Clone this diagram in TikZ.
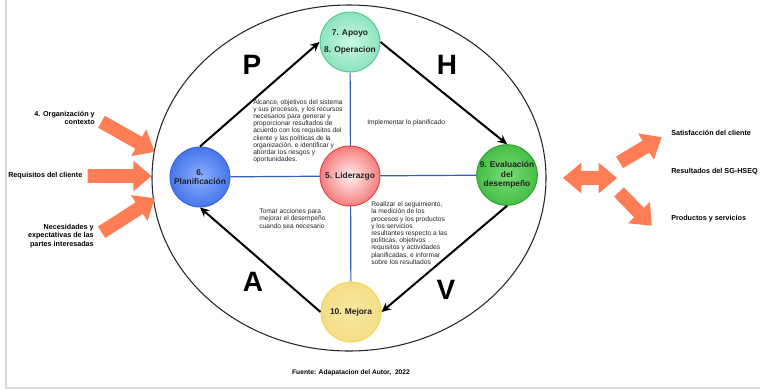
\documentclass[tikz,border=0pt]{standalone}
\usepackage{fontspec}
\setmainfont{Liberation Sans}
\usetikzlibrary{shapes.arrows,arrows.meta,backgrounds}

\definecolor{coralarrow}{RGB}{255,125,85}
\definecolor{axisblue}{RGB}{50,95,190}
\definecolor{textgray}{RGB}{35,35,35}

\tikzset{every picture/.style={line width=0.75pt}}
\tikzset{
  stage/.style={circle, minimum size=45pt, inner sep=0pt, align=center, text=textgray,
    font=\bfseries\fontsize{6.3}{7.2}\selectfont},
  cycle arrow/.style={line width=1.5pt, -{Stealth[length=7pt,width=6.5pt]}},
  axis line/.style={draw=axisblue, line width=0.9pt},
  flow arrow/.style={fill=coralarrow, draw=none, inner xsep=0pt, inner ysep=4.9pt},
  note/.style={anchor=north west, inner sep=0pt, align=left, text=textgray,
    font=\fontsize{5}{5.4}\selectfont},
  sidelabel/.style={inner sep=0pt, font=\bfseries\fontsize{5.4}{6.3}\selectfont},
  phase/.style={inner sep=0pt, font=\bfseries\fontsize{21}{21}\selectfont},
}

\begin{document}
\begin{tikzpicture}[x=0.75pt,y=0.75pt,yscale=-1,xscale=1]
\useasboundingbox (0,0) rectangle (760,390);

% frame
\draw [black!15, line width=1pt] (6,0) -- (6,388) -- (760,388);
% outer ellipse
\draw [black!85, line width=0.8pt] (349,178) ellipse [x radius=197, y radius=173];

% stages
\node [stage, draw={rgb,255:red,90;green,200;blue,150}, inner color={rgb,255:red,200;green,248;blue,225}, outer color={rgb,255:red,140;green,228;blue,188}] (apoyo) at (350,42) {7. Apoyo\\[5.5pt]8. Operacion};
\node [stage, draw={rgb,255:red,225;green,70;blue,70}, inner color={rgb,255:red,255;green,240;blue,240}, outer color={rgb,255:red,245;green,125;blue,125}] (liderazgo) at (350,176) {5. Liderazgo};
\node [stage, draw={rgb,255:red,60;green,100;blue,215}, inner color={rgb,255:red,140;green,175;blue,255}, outer color={rgb,255:red,70;green,118;blue,235}] (planificacion) at (200,177) {6.\\Planificación};
\node [stage, draw={rgb,255:red,50;green,160;blue,50}, inner color={rgb,255:red,120;green,220;blue,120}, outer color={rgb,255:red,70;green,190;blue,70}] (evaluacion) at (507,175) {9. Evaluación\\del\\desempeño};
\node [stage, draw={rgb,255:red,245;green,212;blue,90}, inner color={rgb,255:red,248;green,232;blue,160}, outer color={rgb,255:red,243;green,222;blue,135}] (mejora) at (351,312) {10. Mejora};

% cross behind the centre
\begin{pgfonlayer}{background}
\draw [axis line] (planificacion) -- (evaluacion);
\draw [axis line] (apoyo) -- (mejora);
\end{pgfonlayer}

% PHVA cycle
\draw [cycle arrow] (planificacion.north) -- (apoyo.west);
\draw [cycle arrow] (apoyo.east) -- (evaluacion.north);
\draw [cycle arrow] (evaluacion.south) -- (mejora.east);
\draw [cycle arrow] (mejora.west) -- (planificacion.south);

\node [phase] (letterp) at (252,65) {P};
\node [phase] (letterh) at (447,65) {H};
\node [phase] (lettera) at (253,282) {A};
\node [phase] (letterv) at (446,290) {V};

% Text Node
\node [note] (alcance) at (253,99) {Alcance, objetivos del sistema\\y sus procesos, y los recursos\\necesarios para generar y\\proporcionar resultados de\\acuerdo con los requisitos del\\cliente y las políticas de la\\organización, e identificar y\\abordar los riesgos y\\oportunidades.};
% Text Node
\node [note] (implementar) at (367,119) {Implementar lo planificado};
% Text Node
\node [note] (tomar) at (259,208.5) {Tomar acciones para\\mejorar el desempeño\\cuando sea necesario};
% Text Node
\node [note] (realizar) at (371,201.5) {Realizar el seguimiento,\\la medición de los\\procesos y los productos\\y los servicios\\resultantes respecto a las\\políticas, objetivos\\requisitos y actividades\\planificadas, e informar\\sobre los resultados};

% inputs
\node [sidelabel, align=right, anchor=east] (organizacion) at (95,118) {4. Organización y\\contexto};
\node [sidelabel, anchor=west] (requisitos) at (8,176) {Requisitos del cliente};
\node [sidelabel, align=right, anchor=east] (necesidades) at (94,236) {Necesidades y\\expectativas de las\\partes interesadas};

\node [flow arrow, single arrow, single arrow head extend=6.4pt, single arrow tip angle=80, minimum height=45.75pt, anchor=tip, rotate=-29.5] (inorganizacion) at (155,152) {};
\node [flow arrow, single arrow, single arrow head extend=6.4pt, single arrow tip angle=80, minimum height=48pt, anchor=tip] (inrequisitos) at (152,176) {};
\node [flow arrow, single arrow, single arrow head extend=6.4pt, single arrow tip angle=80, minimum height=47.25pt, anchor=tip, rotate=32.7] (innecesidades) at (155,198) {};

% outputs
\node [flow arrow, double arrow, double arrow head extend=6.4pt, double arrow tip angle=80, minimum height=40.5pt] (outresultados) at (590,178) {};
\node [flow arrow, single arrow, single arrow head extend=6.4pt, single arrow tip angle=80, minimum height=36.75pt, anchor=tip, rotate=30.8] (outsatisfaccion) at (662,137) {};
\node [flow arrow, single arrow, single arrow head extend=6.4pt, single arrow tip angle=80, minimum height=35.25pt, anchor=tip, rotate=-45.8] (outproductos) at (652,226) {};

\node [sidelabel, anchor=west] (satisfaccion) at (671,133) {Satisfacción del cliente};
\node [sidelabel, anchor=west] (resultados) at (671,172) {Resultados del SG-HSEQ};
\node [sidelabel, anchor=west] (productos) at (671,219) {Productos y servicios};

% source
\node [sidelabel, font=\bfseries\fontsize{5}{6}\selectfont] (fuente) at (351,373) {Fuente: Adapatacion del Autor,\ \ 2022};

\end{tikzpicture}
\end{document}
